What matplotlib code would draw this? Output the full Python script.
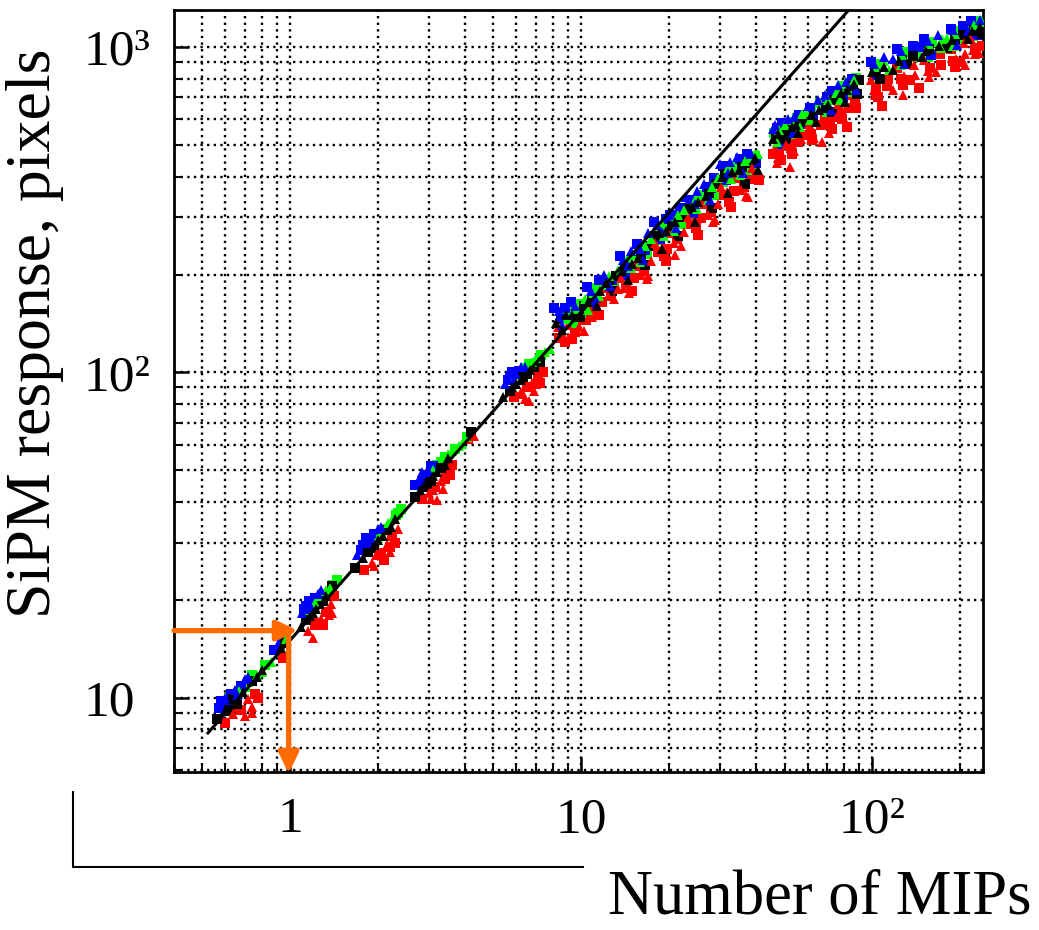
import matplotlib
matplotlib.use('Agg')
import matplotlib.pyplot as plt
from matplotlib.ticker import FixedLocator, LogLocator, NullFormatter
from matplotlib.lines import Line2D

plt.rcParams['font.family'] = ['Liberation Serif', 'DejaVu Serif']

# SiPM response (pixels) vs number of MIPs, one list of (x, y) per colour
blue_pts = [
    (0.57, 9.3), (0.60, 10.0), (0.62, 9.6), (0.65, 10.6), (0.68, 10.9), (0.72, 11.6),
    (0.58, 9.8), (0.66, 10.2), (0.63, 10.3), (0.70, 11.4),
    (0.88, 14.0), (0.91, 14.6), (0.94, 15.0),
    (1.10, 18.2), (1.14, 19.2), (1.18, 19.0), (1.22, 20.3), (1.28, 21.5), (1.12, 18.8), (1.25, 20.8), (1.16, 19.8),
    (1.70, 27.5), (1.78, 29.5), (1.85, 30.0), (1.95, 32.0), (2.05, 33.5), (1.75, 28.5), (1.90, 31.0),
    (1.82, 31.0), (2.00, 33.0),
    (2.70, 45.0), (2.80, 47.5), (2.90, 46.5), (3.00, 49.5), (3.10, 51.5), (2.75, 46.5), (2.95, 48.5),
    (2.85, 49.5), (3.05, 51.5),
    (5.5, 92), (5.7, 97), (5.9, 95), (6.1, 101), (6.4, 104), (5.6, 95), (6.0, 99), (5.8, 100), (6.2, 104),
    (8.1, 158), (8.4, 155), (9.2, 165), (9.5, 160), (10.5, 183), (10.8, 178), (8.8, 158),
    (12.0, 200), (13.6, 228), (13.9, 222), (15.5, 248), (15.9, 240), (11.5, 192), (14.8, 236),
    (17.8, 290), (18.2, 284), (20.2, 305), (23.0, 345), (23.6, 338), (17.0, 268), (19.5, 296),
    (26.4, 380), (27.0, 372), (30.0, 438), (30.8, 430), (34.4, 460), (35.2, 452), (38.3, 470),
    (21.8, 320), (25.0, 360), (28.5, 395), (32.5, 445), (37.0, 468),
    (8.6, 140), (11.0, 162), (12.6, 185), (14.2, 200), (16.3, 222), (18.7, 258),
    (21.2, 278), (24.2, 310), (27.8, 340), (31.5, 390), (36.0, 410), (40.0, 440),
    (8.4, 148), (9.8, 152), (11.2, 170), (12.8, 192), (14.5, 212), (16.6, 238),
    (19.0, 270), (21.6, 300), (24.6, 330), (28.0, 368), (32.0, 410), (36.4, 440),
    (46.2, 575), (47.0, 565), (51.5, 600), (56.0, 620), (45.6, 560), (49.0, 585), (54.0, 610),
    (48.2, 505), (53.5, 545), (57.8, 580),
    (60.3, 660), (61.0, 652), (69.0, 712), (70.0, 700), (76.5, 765), (85.0, 800),
    (65.0, 690), (73.0, 735), (81.0, 780), (62.5, 600), (72.0, 640), (79.5, 700), (88.0, 740),
    (99, 900), (101, 885), (122, 985), (125, 970), (151, 1060), (155, 1045),
    (186, 1140), (190, 1125), (218, 1200), (110, 935), (138, 1010), (168, 1090), (205, 1160), (235, 1210),
    (103, 820), (128, 890), (159, 945), (195, 1015), (228, 1090),
    (118, 920), (148, 1000), (214, 1120),
]
black_pts = [
    (0.56, 8.6), (0.60, 9.1), (0.64, 9.9), (0.69, 10.4), (0.74, 11.3), (0.80, 12.2),
    (0.66, 9.6), (0.77, 11.6), (0.62, 9.2),
    (0.93, 14.2), (0.96, 14.8),
    (1.09, 16.5), (1.14, 17.3), (1.20, 18.3), (1.26, 19.5), (1.33, 20.6), (1.40, 22.0), (1.17, 17.9), (1.30, 19.9),
    (1.23, 18.8),
    (1.68, 25.0), (1.78, 27.0), (1.90, 28.8), (2.00, 30.5), (2.15, 32.8), (2.30, 35.5), (1.85, 28.0), (2.08, 31.5),
    (1.95, 29.5), (2.22, 33.5),
    (2.68, 41.5), (2.80, 43.5), (2.95, 45.5), (3.10, 48.0), (3.30, 51.0), (3.50, 54.5), (2.88, 44.5), (3.20, 49.5),
    (3.05, 46.5), (3.40, 52.0),
    (4.20, 65.5),
    (5.4, 84), (5.7, 88), (6.0, 92), (6.3, 97), (6.7, 102), (7.2, 108), (5.8, 90), (6.5, 99), (6.2, 95), (6.9, 104),
    (8.2, 142), (8.5, 146), (9.3, 150), (9.6, 148), (10.6, 165), (10.9, 170), (8.9, 150), (10.2, 160),
    (12.2, 188), (12.5, 192), (13.8, 205), (14.1, 210), (15.7, 225), (16.1, 230), (11.6, 178), (13.2, 198), (15.0, 215),
    (18.0, 262), (18.5, 268), (20.5, 282), (21.0, 290), (23.4, 318), (24.0, 322), (17.0, 245), (19.5, 272), (22.2, 300),
    (26.8, 348), (27.5, 355), (30.5, 400), (31.3, 408), (34.9, 420), (35.8, 428), (25.3, 335), (29.0, 380), (33.0, 412),
    (38.7, 450), (39.6, 455), (37.5, 440),
    (8.6, 135), (9.9, 148), (11.3, 160), (12.8, 178), (14.5, 192), (16.6, 214), (19.0, 240),
    (21.6, 262), (24.6, 290), (28.2, 320), (32.0, 355), (36.5, 380), (40.5, 420),
    (46.8, 530), (47.6, 540), (52.0, 560), (52.8, 570), (56.4, 590), (45.6, 520), (49.5, 550), (54.5, 575),
    (50.5, 520), (55.5, 545),
    (61.0, 610), (61.8, 620), (69.6, 650), (70.6, 665), (77.2, 715), (78.3, 725),
    (85.6, 760), (86.8, 770), (58.5, 600), (65.5, 640), (74.0, 690), (82.0, 740), (90.0, 790),
    (64.0, 590), (72.5, 630), (80.5, 680), (88.5, 720),
    (100, 840), (102, 850), (123.5, 905), (126, 915), (153, 975), (156, 985),
    (188, 1050), (192, 1060), (220, 1120), (224, 1130), (110, 870), (138, 940), (170, 1010), (205, 1090), (235, 1150),
    (106, 800), (118, 850), (132, 890), (148, 930), (180, 990), (214, 1060), (238, 1100),
]
red_pts = [
    (0.60, 8.4), (0.64, 8.9), (0.68, 9.2), (0.72, 9.9), (0.76, 10.3), (0.70, 8.8), (0.66, 9.4), (0.74, 9.4),
    (0.78, 10.0), (0.74, 9.0),
    (0.95, 13.3),
    (1.15, 16.0), (1.22, 16.8), (1.28, 17.5), (1.33, 18.4), (1.38, 19.4), (1.42, 20.5), (1.20, 15.3),
    (1.25, 17.0), (1.36, 18.0), (1.30, 16.8), (1.40, 18.2),
    (1.80, 24.8), (1.92, 26.0), (2.05, 27.8), (2.15, 29.5), (2.25, 31.5), (2.35, 33.0), (2.10, 26.5),
    (1.98, 27.5), (2.20, 29.0), (2.20, 28.0), (2.30, 30.0), (1.95, 25.5),
    (2.85, 41.0), (3.00, 42.5), (3.15, 44.5), (3.30, 46.5), (3.45, 49.5), (3.20, 40.5), (3.60, 52.0),
    (3.10, 43.5), (3.40, 47.0), (3.35, 44.0), (3.55, 48.5), (3.05, 41.0),
    (4.10, 62.5), (4.30, 64.0),
    (5.9, 84), (6.2, 87), (6.5, 90), (6.8, 93), (7.1, 97), (6.6, 82), (7.4, 100), (6.3, 86), (7.0, 92),
    (6.9, 88), (7.2, 93), (6.4, 83),
    (8.4, 128), (8.6, 132), (9.5, 133), (9.8, 138), (9.3, 127), (10.9, 148), (11.1, 152), (9.0, 140), (10.4, 145),
    (12.4, 172), (12.7, 176), (14.0, 182), (14.3, 188), (14.6, 176), (11.8, 165), (13.4, 180), (15.2, 195),
    (16.0, 200), (16.4, 205), (16.8, 194), (18.4, 235), (18.9, 242), (19.2, 228), (17.4, 220), (19.8, 240),
    (20.8, 250), (21.3, 258), (21.0, 230), (23.8, 285), (24.4, 292), (24.9, 278), (22.5, 270), (25.8, 298),
    (27.2, 305), (27.9, 312), (28.3, 290), (31.0, 350), (31.8, 358), (32.3, 335), (29.5, 330), (33.5, 360),
    (35.5, 365), (36.4, 372), (36.8, 348), (39.4, 405), (40.2, 412), (38.0, 392),
    (8.3, 138), (9.6, 143), (10.7, 158), (12.1, 182), (13.7, 195), (15.6, 212), (17.9, 250),
    (20.4, 268), (23.3, 300), (26.7, 330), (30.3, 372), (34.6, 395), (38.5, 425),
    (8.8, 124), (10.2, 134), (11.5, 150), (13.0, 168), (14.9, 178), (17.0, 198), (19.5, 220),
    (22.0, 245), (25.2, 265), (28.8, 295), (32.8, 322), (37.3, 345), (40.8, 390),
    (47.5, 455), (48.0, 470), (47.0, 440), (52.5, 490), (53.2, 505), (53.0, 468),
    (57.0, 520), (57.6, 535), (52.3, 428), (45.6, 470), (50.5, 500), (55.5, 510),
    (46.5, 490), (51.7, 525), (56.0, 555), (48.5, 450), (54.0, 480),
    (61.5, 540), (62.3, 555), (62.0, 518), (70.5, 575), (71.5, 590), (71.0, 545),
    (78.0, 625), (79.0, 640), (78.6, 600), (86.5, 665), (87.5, 680), (67, 510), (82, 570),
    (59.5, 545), (66.5, 575), (75.0, 610), (83.0, 650),
    (60.5, 580), (69.0, 615), (76.5, 670), (85.0, 710),
    (63.0, 525), (73.0, 560), (80.0, 600), (88.0, 650),
    (101, 740), (103, 755), (102, 710), (125, 800), (128, 815), (127, 765),
    (155, 845), (158, 860), (157, 810), (190, 905), (194, 920), (193, 870),
    (222, 980), (226, 995), (225, 950), (108, 660), (127, 710), (145, 750), (208, 880),
    (112, 760), (140, 820), (172, 880), (208, 950), (238, 1010),
    (99, 795), (122, 860), (151, 915), (186, 985), (218, 1060),
    (113, 800), (139, 880), (171, 950), (206, 1030),
    (105, 700), (118, 740), (135, 790), (165, 840), (200, 900), (232, 960),
]
green_pts = [
    (0.62, 10.0), (0.67, 10.5), (0.72, 11.2), (0.77, 11.8), (0.82, 12.6), (0.86, 12.9), (0.74, 11.8), (0.80, 12.0),
    (0.70, 10.8),
    (0.97, 15.2),
    (1.16, 18.6), (1.22, 19.6), (1.30, 20.8), (1.37, 21.8), (1.45, 23.0), (1.26, 20.5), (1.41, 22.2), (1.33, 21.5),
    (1.85, 28.5), (2.00, 31.0), (2.12, 33.0), (2.25, 35.5), (2.40, 38.0), (2.06, 32.5), (2.32, 36.5),
    (2.18, 34.5), (2.35, 37.0),
    (3.10, 50.0), (3.30, 53.0), (3.50, 56.0), (3.70, 58.0), (3.90, 60.5), (3.20, 52.0), (3.60, 57.5),
    (3.40, 55.0), (3.80, 59.5),
    (4.05, 63.5),
    (6.0, 98), (6.4, 103), (6.8, 108), (7.3, 113), (7.8, 118), (6.2, 101), (7.0, 111), (6.6, 106), (7.5, 116),
    (8.5, 150), (9.6, 157), (9.8, 162), (11.0, 176), (11.2, 182), (12.5, 198), (9.0, 153), (10.3, 168),
    (14.2, 218), (14.5, 226), (16.2, 236), (16.6, 244), (18.5, 276), (19.0, 285), (11.8, 186), (13.4, 206),
    (21.0, 298), (21.5, 304), (24.0, 330), (24.6, 340), (27.5, 362), (28.2, 372), (15.3, 230), (17.4, 258),
    (31.2, 415), (32.0, 425), (35.7, 435), (36.6, 446), (39.5, 462), (40.5, 470), (19.9, 290), (22.6, 315),
    (25.8, 352), (29.6, 395), (33.8, 428), (38.0, 455),
    (9.4, 142), (10.6, 156), (13.9, 198), (15.9, 218), (18.3, 255), (20.9, 272),
    (23.6, 305), (27.2, 338), (30.8, 385), (35.2, 405), (39.2, 435),
    (8.9, 146), (10.0, 152), (11.5, 172), (13.0, 190), (14.8, 210), (16.9, 232),
    (19.3, 262), (22.0, 285), (25.0, 318), (28.7, 350), (32.6, 392), (37.2, 420),
    (47.8, 555), (52.8, 590), (53.5, 598), (57.0, 612), (57.5, 625), (45.8, 545), (50.0, 575), (55.0, 605),
    (47.2, 510), (52.3, 540), (56.6, 570),
    (61.8, 640), (70.6, 690), (71.5, 705), (78.3, 745), (79.3, 760), (86.8, 790), (88.0, 805),
    (59.0, 630), (66.0, 675), (75.0, 725), (83.0, 775),
    (61.2, 595), (70.0, 630), (77.6, 690), (86.0, 730),
    (102, 870), (104, 890), (126, 945), (129, 965), (156, 1020), (160, 1040),
    (192, 1095), (196, 1120), (224, 1170), (228, 1200), (110, 905), (140, 990), (174, 1060), (210, 1140), (238, 1190),
    (101, 815), (125, 880), (155, 935), (190, 1005), (222, 1080),
    (114, 850), (141, 930), (172, 990), (207, 1060),
    (106, 890), (132, 960), (180, 1070),
]

# linear fit (straight line in log-log), end points
fit_x = [0.523, 90.0]
fit_y = [7.8, 1410.0]

# 1 MIP marker
one_mip = 1.0
one_mip_resp = 16.1

x_ticks = [1, 10, 100]
x_tick_labels = ['1', '10', '10\u00b2']
y_ticks = [10, 100, 1000]
y_tick_labels = ['10', '10\u00b2', '10\u00b3']

W, H = 1039, 930
fig = plt.figure(figsize=(W/100, H/100), dpi=100)
ax = fig.add_axes([174/W, 1-772/H, (983-174)/W, (772-10)/H])
ax.set_xscale('log')
ax.set_yscale('log')
ax.set_xlim(0.40, 240)
ax.set_ylim(5.92, 1300)

series = [(red_pts, '#ff0000'), (green_pts, '#00ff00'), (blue_pts, '#0000ff'), (black_pts, 'black')]
# squares first for every colour, then triangles, so the colours mix
for start, mk, size in [(0, 's', 6.5), (1, '^', 7.5)]:
    for pts, col in series:
        xs = [p[0] for p in pts][start::2]
        ys = [p[1] for p in pts][start::2]
        ax.plot(xs, ys, mk, color=col, ms=size, mew=0, zorder=3)

ax.plot(fit_x, fit_y, color='black', lw=2.2, zorder=4)

orange = '#ff6a00'
ax.annotate('', xy=(1.065, one_mip_resp), xytext=(0.40, one_mip_resp),
            arrowprops=dict(arrowstyle='-|>,head_length=1.25,head_width=0.6',
                            color=orange, lw=3.8, shrinkA=0, shrinkB=0),
            annotation_clip=False, zorder=5)
ax.annotate('', xy=(one_mip*0.99, 5.85), xytext=(one_mip*0.99, one_mip_resp*1.01),
            arrowprops=dict(arrowstyle='-|>,head_length=1.25,head_width=0.6',
                            color=orange, lw=3.8, shrinkA=0, shrinkB=0),
            annotation_clip=False, zorder=5)

ax.xaxis.set_major_locator(FixedLocator(x_ticks))
ax.set_xticklabels(x_tick_labels)
ax.yaxis.set_major_locator(FixedLocator(y_ticks))
ax.set_yticklabels(y_tick_labels)
ax.xaxis.set_minor_locator(LogLocator(base=10, subs=range(2, 10), numticks=20))
ax.yaxis.set_minor_locator(LogLocator(base=10, subs=range(2, 10), numticks=20))
ax.xaxis.set_minor_formatter(NullFormatter())
ax.yaxis.set_minor_formatter(NullFormatter())

ax.grid(True, which='both', color='black', linestyle=(0, (1, 1.8)), linewidth=1.7)
ax.set_axisbelow(True)

ax.tick_params(which='major', direction='in', length=11, width=1.8, labelsize=37,
               top=False, right=False)
ax.tick_params(which='minor', direction='in', length=6, width=1.4, top=False, right=False)
ax.tick_params(axis='x', pad=18)
ax.tick_params(axis='y', pad=65)
for lbl in ax.get_yticklabels():
    lbl.set_horizontalalignment('left')

for s in ax.spines.values():
    s.set_linewidth(2.0)

fig.text(35/W, 1-333/H, 'SiPM response, pixels', rotation=90, ha='center', va='center', fontsize=46)
fig.text(1032/W, 1-913/H, 'Number of MIPs', ha='right', va='baseline', fontsize=45)

fig.add_artist(Line2D([73/W, 73/W, 583/W], [1-792/H, 1-867/H, 1-867/H],
                      color='black', lw=1.5, transform=fig.transFigure))

fig.savefig('out.png', dpi=100)
